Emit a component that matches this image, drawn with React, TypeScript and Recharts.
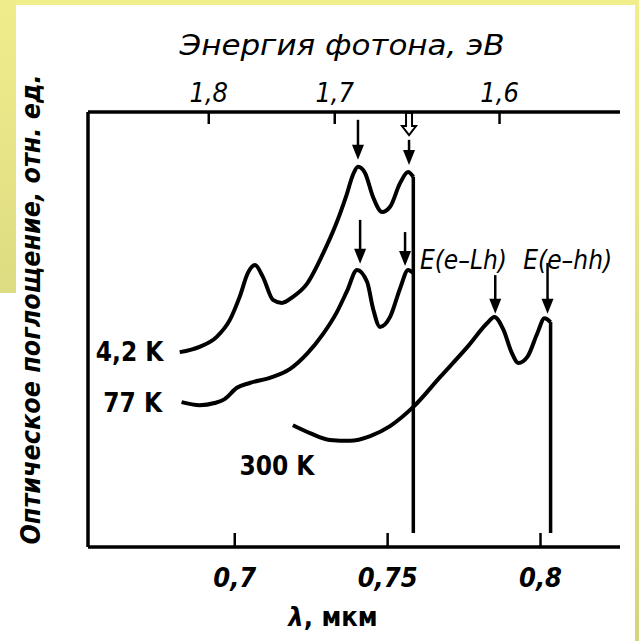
import { LineChart, Line, XAxis, YAxis, ReferenceLine, ReferenceDot } from 'recharts';

// длина волны, мкм
const lambda42 = [0.682, 0.6885, 0.6941, 0.6984, 0.7016, 0.7043, 0.7066, 0.7092, 0.7125, 0.7154, 0.719, 0.7236, 0.7289, 0.733, 0.7365, 0.7388, 0.7403, 0.7426, 0.7452, 0.7482, 0.7508, 0.7541, 0.7567, 0.7584];
// поглощение, отн. ед.
const absorb42 = [44.8, 46.0, 48.3, 52.2, 57.5, 63.0, 64.8, 62.1, 56.8, 56.1, 57.5, 60.5, 67.5, 74.0, 80.8, 85.8, 87.4, 86.0, 80.5, 77.0, 78.2, 83.7, 86.2, 85.1];

const lambda77 = [0.6826, 0.6885, 0.6934, 0.6967, 0.7007, 0.7049, 0.7115, 0.718, 0.7236, 0.7289, 0.7334, 0.7367, 0.74, 0.7433, 0.7452, 0.7475, 0.7508, 0.7541, 0.7567, 0.7584];
const absorb77 = [33.3, 32.6, 33.1, 34.0, 36.6, 37.7, 38.9, 40.9, 44.4, 49.0, 54.0, 58.8, 63.7, 60.9, 54.9, 50.6, 52.9, 59.5, 63.7, 63.0];

const lambda300 = [0.719, 0.7246, 0.7311, 0.7377, 0.7443, 0.7508, 0.7584, 0.7672, 0.7761, 0.7826, 0.7849, 0.7879, 0.7905, 0.7928, 0.7957, 0.799, 0.8013, 0.8033];
const absorb300 = [28.0, 26.2, 24.6, 24.4, 25.5, 27.8, 32.2, 39.1, 46.0, 51.5, 52.9, 49.9, 44.8, 42.3, 43.7, 49.2, 52.6, 51.7];

// vertical edges (x, from, to)
const edgeX = [0.7584, 0.8033];
const edgeTop = [85.1, 51.7];
const edgeBottom = [3.2, 3.2];

const lambdaTicks = [0.7, 0.75, 0.8];
const lambdaTickLabels = ['0,7', '0,75', '0,8'];
const energyTicks = [0.6915, 0.7327, 0.7866];
const energyTickLabels = ['1,8', '1,7', '1,6'];

// arrows
const arrowX = [0.7403, 0.757, 0.741, 0.7557, 0.7852, 0.8023];
const arrowFrom = [98.2, 93.6, 75.2, 72.4, 62.5, 65.3];
const arrowTo = [89.0, 87.8, 65.1, 64.6, 53.6, 53.6];
const hollowX = 0.757;
const hollowFrom = 99.8;
const hollowTo = 94.7;

const curveLabels = ['4,2 K', '77 K', '300 K', 'E(e–Lh)', 'E(e–hh)'];
const curveLabelX = [0.6656, 0.6666, 0.7138, 0.7748, 0.8089];
const curveLabelY = [44.8, 33.1, 18.6, 66.0, 66.0];

const zip = (xs: number[], ys: number[]) => xs.map((x, i) => ({ x, y: ys[i] }));

const FONT = "'DejaVu Sans Condensed', 'Liberation Sans Narrow', 'DejaVu Sans', sans-serif";

const BottomTick = (props: any) => {
  const { x, y, payload } = props;
  const i = lambdaTicks.indexOf(payload.value);
  return (
    <g>
      <line x1={x} y1={y} x2={x} y2={y - 14} stroke="#000" strokeWidth={2.5} />
      <text x={x} y={y + 40} textAnchor="middle" fontFamily={FONT} fontSize={27} fontStyle="italic" fontWeight="bold" fill="#000">
        {lambdaTickLabels[i]}
      </text>
    </g>
  );
};

const TopTick = (props: any) => {
  const { x, y, payload } = props;
  const i = energyTicks.indexOf(payload.value);
  return (
    <g>
      <line x1={x} y1={y} x2={x} y2={y + 12} stroke="#000" strokeWidth={2.5} />
      <text x={x} y={y - 10} textAnchor="middle" fontFamily={FONT} fontSize={27} fontStyle="italic" fill="#000">
        {energyTickLabels[i]}
      </text>
    </g>
  );
};

const Arrow = (props: any) => {
  const { x1, y1, x2, y2 } = props;
  const top = Math.min(y1, y2);
  const tip = Math.max(y1, y2);
  return (
    <g>
      <line x1={x1} y1={top} x2={x2} y2={tip - 12} stroke="#000" strokeWidth={2.5} />
      <polygon points={`${x2 - 6},${tip - 15} ${x2 + 6},${tip - 15} ${x2},${tip}`} fill="#000" />
    </g>
  );
};

const HollowArrow = (props: any) => {
  const { x1, y1, y2 } = props;
  const top = Math.min(y1, y2);
  const tip = Math.max(y1, y2);
  const mid = tip - 9;
  return (
    <polygon
      points={`${x1 - 3},${top} ${x1 + 3},${top} ${x1 + 3},${mid} ${x1 + 7},${mid} ${x1},${tip} ${x1 - 7},${mid} ${x1 - 3},${mid}`}
      fill="#fff"
      stroke="#000"
      strokeWidth={2}
    />
  );
};

const TextMark = (text: string, italic: boolean) => (props: any) => (
  <text x={props.cx} y={props.cy} dy={9} textAnchor="middle" fontFamily={FONT} fontSize={26}
    fontStyle={italic ? 'italic' : 'normal'} fontWeight={italic ? 'normal' : 'bold'} fill="#000">
    {text}
  </text>
);

export default function App() {
  return (
    <div style={{ position: 'absolute', left: 0, top: 0, width: 639, height: 641, background: '#fff', overflow: 'hidden' }}>
      <div style={{ position: 'absolute', left: 0, top: 0, width: 639, height: 5, background: '#f1ef8c' }} />
      <div style={{ position: 'absolute', left: 0, top: 0, width: 16, height: 293, background: 'linear-gradient(#efed8b, #dedc82)' }} />
      <div style={{ position: 'absolute', left: 635, top: 0, width: 4, height: 641, background: 'linear-gradient(#f1ef8c, #d6d47e)' }} />
      <div style={{ position: 'absolute', left: 0, top: 0 }}>
        <LineChart width={639} height={641} margin={{ top: 0, right: 19, bottom: 0, left: 0 }}>
          <XAxis
            xAxisId="bottom"
            type="number"
            dataKey="x"
            domain={[0.652, 0.826]}
            ticks={lambdaTicks}
            orientation="bottom"
            height={94}
            tickSize={0}
            tickMargin={0}
            tickLine={false}
            tick={<BottomTick />}
            axisLine={{ stroke: '#000', strokeWidth: 3.5 }}
            allowDataOverflow
            label={{
              content: (p: any) => (
                <text x={p.viewBox.x + 245} y={p.viewBox.y + 79} textAnchor="middle" fontFamily={FONT} fontSize={27} fontWeight="bold" fill="#000">
                  <tspan fontStyle="italic">λ</tspan>, мкм
                </text>
              ),
            }}
          />
          <XAxis
            xAxisId="top"
            type="number"
            dataKey="x"
            domain={[0.652, 0.826]}
            ticks={energyTicks}
            orientation="top"
            height={112}
            tickSize={0}
            tickMargin={0}
            tickLine={false}
            tick={<TopTick />}
            axisLine={{ stroke: '#000', strokeWidth: 3.5 }}
            allowDataOverflow
            label={{
              content: (p: any) => (
                <text x={p.viewBox.x + 254} y={55} textAnchor="middle" fontFamily={FONT} fontSize={28} fontStyle="italic" fill="#000" textLength={325} lengthAdjust="spacingAndGlyphs">
                  Энергия фотона, эВ
                </text>
              ),
            }}
          />
          <YAxis
            yAxisId="y"
            type="number"
            domain={[0, 100]}
            width={88}
            tick={false}
            tickLine={false}
            axisLine={{ stroke: '#000', strokeWidth: 3.5 }}
            label={{
              content: (p: any) => {
                const cx = p.viewBox.x + 31;
                const cy = p.viewBox.y + p.viewBox.height / 2 - 20;
                return (
                  <text x={cx} y={cy} dy={9} transform={`rotate(-90, ${cx}, ${cy})`} textAnchor="middle" fontFamily={FONT} fontSize={27}
                    fontStyle="italic" fontWeight="bold" fill="#000" textLength={470} lengthAdjust="spacingAndGlyphs">
                    Оптическое поглощение, отн. ед.
                  </text>
                );
              },
            }}
          />
          <Line xAxisId="bottom" yAxisId="y" data={zip(lambda42, absorb42)} dataKey="y" type="monotone" stroke="#000" strokeWidth={4} dot={false} isAnimationActive={false} />
          <Line xAxisId="bottom" yAxisId="y" data={zip(lambda77, absorb77)} dataKey="y" type="monotone" stroke="#000" strokeWidth={4} dot={false} isAnimationActive={false} />
          <Line xAxisId="bottom" yAxisId="y" data={zip(lambda300, absorb300)} dataKey="y" type="monotone" stroke="#000" strokeWidth={4} dot={false} isAnimationActive={false} />
          {edgeX.map((x, i) => (
            <Line key={`edge-${i}`} xAxisId="bottom" yAxisId="y" data={[{ x, y: edgeTop[i] }, { x, y: edgeBottom[i] }]} dataKey="y" type="linear" stroke="#000" strokeWidth={3.5} dot={false} isAnimationActive={false} />
          ))}
          {arrowX.map((x, i) => (
            <ReferenceLine key={`arrow-${i}`} xAxisId="bottom" yAxisId="y" segment={[{ x, y: arrowFrom[i] }, { x, y: arrowTo[i] }]} shape={<Arrow />} />
          ))}
          <ReferenceLine xAxisId="bottom" yAxisId="y" segment={[{ x: hollowX, y: hollowFrom }, { x: hollowX, y: hollowTo }]} shape={<HollowArrow />} />
          {curveLabels.map((t, i) => (
            <ReferenceDot key={`lbl-${i}`} xAxisId="bottom" yAxisId="y" x={curveLabelX[i]} y={curveLabelY[i]} r={0} ifOverflow="visible" shape={TextMark(t, i >= 3)} />
          ))}
        </LineChart>
      </div>
    </div>
  );
}
